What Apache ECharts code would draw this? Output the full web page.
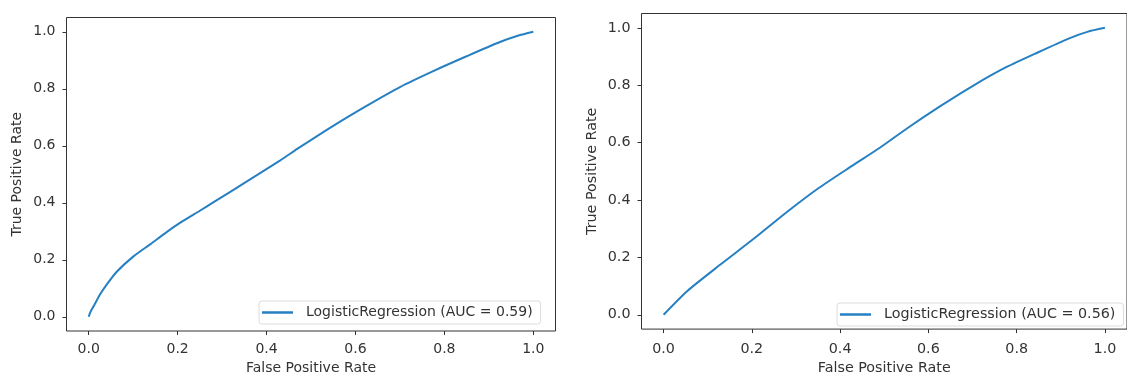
<!DOCTYPE html>
<html>
<head>
<meta charset="utf-8">
<script src="https://cdn.jsdelivr.net/npm/echarts@6/dist/echarts.min.js"></script>
<style>
html,body{margin:0;padding:0;background:#fff;}
#c{width:1127px;height:380px;}
</style>
</head>
<body>
<div id="c"></div>
<script>
const tickValues = [0, 0.2, 0.4, 0.6, 0.8, 1.0];
const nameA = 'LogisticRegression (AUC = 0.59)';
const fprA = [0, 0.004, 0.011, 0.026, 0.04, 0.063, 0.1, 0.138, 0.176, 0.206, 0.25, 0.28, 0.355, 0.43, 0.475, 0.55, 0.625, 0.70, 0.775, 0.85, 0.925, 0.965, 1.0];
const tprA = [0, 0.017, 0.037, 0.08, 0.112, 0.158, 0.211, 0.254, 0.298, 0.33, 0.372, 0.401, 0.474, 0.548, 0.595, 0.67, 0.74, 0.806, 0.862, 0.914, 0.964, 0.986, 1.0];
const nameB = 'LogisticRegression (AUC = 0.56)';
const fprB = [0, 0.054, 0.128, 0.202, 0.276, 0.35, 0.424, 0.49, 0.553, 0.627, 0.701, 0.774, 0.849, 0.922, 0.96, 1.0];
const tprB = [0, 0.083, 0.174, 0.262, 0.354, 0.44, 0.516, 0.582, 0.651, 0.727, 0.798, 0.861, 0.915, 0.965, 0.986, 1.0];

const FONT = 'DejaVu Sans';
const TXT = '#333';
const LINE = '#2680c2';

function mkX(gi, fs, margin, gap) {
  return {
    type: 'value', gridIndex: gi, min: -0.05, max: 1.05,
    name: 'False Positive Rate', nameLocation: 'middle', nameGap: gap,
    nameTextStyle: {fontFamily: FONT, fontSize: fs, color: TXT},
    axisLine: {show: false, onZero: false},
    splitLine: {show: false},
    axisTick: {show: true, length: 4, customValues: tickValues, lineStyle: {color: TXT, width: 1}},
    axisLabel: {customValues: tickValues, margin: margin, fontFamily: FONT, fontSize: fs, color: TXT,
      formatter: v => v.toFixed(1)}
  };
}
function mkY(gi, fs, margin, gap) {
  return {
    type: 'value', gridIndex: gi, min: -0.05, max: 1.05,
    name: 'True Positive Rate', nameLocation: 'middle', nameGap: gap,
    nameTextStyle: {fontFamily: FONT, fontSize: fs, color: TXT},
    axisLine: {show: false, onZero: false},
    splitLine: {show: false},
    axisTick: {show: true, length: 4, customValues: tickValues, lineStyle: {color: TXT, width: 1}},
    axisLabel: {customValues: tickValues, margin: margin, fontFamily: FONT, fontSize: fs, color: TXT,
      formatter: v => v.toFixed(1)}
  };
}
function mkLegend(name, left, top, fs) {
  return {
    data: [name], left: left, top: top, orient: 'horizontal',
    icon: 'rect', itemWidth: 31, itemHeight: 2.5,
    padding: [3, 8, 3, 3],
    backgroundColor: '#fff', borderColor: '#dcdcdc', borderWidth: 1, borderRadius: 3,
    textStyle: {fontFamily: FONT, fontSize: fs, color: TXT, lineHeight: 17, padding: [0, 0, 0, 8]},
    selectedMode: false
  };
}

const chart = echarts.init(document.getElementById('c'), null, {renderer: 'canvas'});
chart.setOption({
  animation: false,
  backgroundColor: '#fff',
  grid: [
    {left: 66.5, top: 17.5, width: 489, height: 316, show: true, borderColor: '#333', borderWidth: 1, backgroundColor: 'transparent'},
    {left: 641.5, top: 13.5, width: 496, height: 322, show: true, borderColor: '#333', borderWidth: 1, backgroundColor: 'transparent'}
  ],
  xAxis: [mkX(0, 14, 11, 30), mkX(1, 14.3, 13, 31)],
  yAxis: [mkY(0, 14, 11, 42), mkY(1, 14.3, 11, 42)],
  legend: [mkLegend(nameA, 259, 301, 14), mkLegend(nameB, 837, 303, 14.3)],
  series: [
    {name: nameA, type: 'line', xAxisIndex: 0, yAxisIndex: 0, symbol: 'none', smooth: 0.25,
     lineStyle: {color: LINE, width: 2}, itemStyle: {color: LINE},
     data: fprA.map((x, i) => [x, tprA[i]])},
    {name: nameB, type: 'line', xAxisIndex: 1, yAxisIndex: 1, symbol: 'none', smooth: 0.25,
     lineStyle: {color: LINE, width: 2}, itemStyle: {color: LINE},
     data: fprB.map((x, i) => [x, tprB[i]])}
  ]
});
</script>
</body>
</html>
